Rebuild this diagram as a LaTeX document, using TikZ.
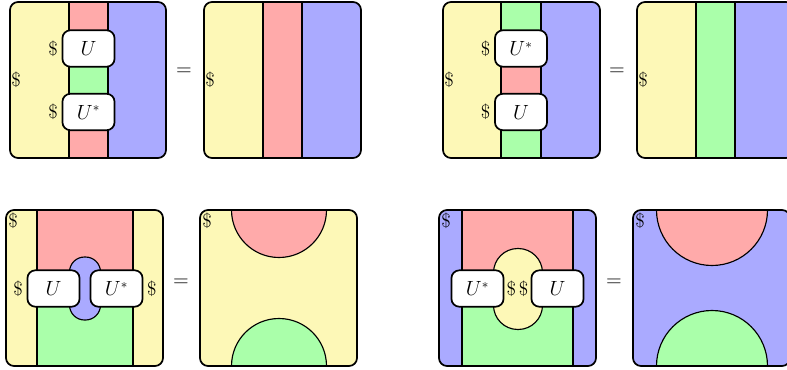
\documentclass[tikz,border=0pt]{standalone}
\definecolor{cy}{RGB}{253,248,183}
\definecolor{cr}{RGB}{255,170,170}
\definecolor{cg}{RGB}{170,255,170}
\definecolor{cb}{RGB}{170,170,255}
\tikzset{
  panel/.style={line width=1.2pt, rounded corners=5.6pt},
  strip/.style={line width=0.8pt},
  opbox/.style={draw, line width=1.2pt, fill=white, rounded corners=5.6pt,
    minimum width=36.5pt, minimum height=25.5pt, inner sep=0pt},
  lbl/.style={inner sep=2.4pt},
  tight/.style={inner sep=1.3pt},
  corner/.style={anchor=west, inner sep=1.5pt},
  eq/.style={font=\fontsize{15}{18}\selectfont}
}
\begin{document}
\begin{tikzpicture}[x=0.7pt,y=-0.7pt, every node/.style={font=\fontsize{13.5}{16}\selectfont}]
\useasboundingbox (0,0) rectangle (787,370);
% ---------- Panel A ----------
\begin{scope}
\clip[rounded corners=5.6pt] (10,2) rectangle (166,158);
\fill[cy] (10,2) rectangle (69,158);
\fill[cr] (69,2) rectangle (108,158);
\fill[cg] (69,67) rectangle (108,93);
\fill[cb] (108,2) rectangle (166,158);
\draw[strip] (69,2) -- (69,158) (108,2) -- (108,158);
\end{scope}
\draw[panel] (10,2) rectangle (166,158);
\node[opbox] (a1) at (88.5,48.5) {$U$};
\node[opbox] (a2) at (88.5,112) {$U^*$};
\node[lbl,left] (a1l) at (a1.west) {\$};
\node[lbl,left] (a2l) at (a2.west) {\$};
\node[corner] (a0) at (9,80) {\$};
\node[eq] (e1) at (184,72) {$=$};
% ---------- Panel B ----------
\begin{scope}
\clip[rounded corners=5.6pt] (204,2) rectangle (361,158);
\fill[cy] (204,2) rectangle (263,158);
\fill[cr] (263,2) rectangle (302,158);
\fill[cb] (302,2) rectangle (361,158);
\draw[strip] (263,2) -- (263,158) (302,2) -- (302,158);
\end{scope}
\draw[panel] (204,2) rectangle (361,158);
\node[corner] (b0) at (203,80) {\$};
% ---------- Panel C ----------
\begin{scope}
\clip[rounded corners=5.6pt] (443,2) rectangle (600,158);
\fill[cy] (443,2) rectangle (501,158);
\fill[cg] (501,2) rectangle (541,158);
\fill[cr] (501,67) rectangle (541,93);
\fill[cb] (541,2) rectangle (600,158);
\draw[strip] (501,2) -- (501,158) (541,2) -- (541,158);
\end{scope}
\draw[panel] (443,2) rectangle (600,158);
\node[opbox] (c1) at (521,48.5) {$U^*$};
\node[opbox] (c2) at (521,112) {$U$};
\node[lbl,left] (c1l) at (c1.west) {\$};
\node[lbl,left] (c2l) at (c2.west) {\$};
\node[corner] (c0) at (442,80) {\$};
\node[eq] (e2) at (617,72) {$=$};
% ---------- Panel D ----------
\begin{scope}
\clip[rounded corners=5.6pt] (637,2) rectangle (794,158);
\fill[cy] (637,2) rectangle (696,158);
\fill[cg] (696,2) rectangle (735,158);
\fill[cb] (735,2) rectangle (794,158);
\draw[strip] (696,2) -- (696,158) (735,2) -- (735,158);
\end{scope}
\draw[panel] (637,2) rectangle (794,158);
\node[corner] (d0) at (636,80) {\$};
% ---------- Panel E ----------
\begin{scope}
\clip[rounded corners=5.6pt] (6,210) rectangle (163,366);
\fill[cy] (6,210) rectangle (163,366);
\fill[cr] (37,210) rectangle (133,289);
\fill[cg] (37,289) rectangle (133,366);
\draw[strip] (37,210) -- (37,366) (133,210) -- (133,366);
\end{scope}
\draw[panel] (6,210) rectangle (163,366);
\draw[strip, fill=cb, rounded corners=10.5pt] (69.5,257) rectangle (100.5,320);
\node[opbox] (f1) at (53.5,288.5) {$U$};
\node[opbox] (f2) at (116.5,288.5) {$U^*$};
\node[lbl,left] (f1l) at (f1.west) {\$};
\node[lbl,right] (f2r) at (f2.east) {\$};
\node[corner] (f0) at (6,221) {\$};
\node[eq] (e3) at (181,283) {$=$};
% ---------- Panel F ----------
\begin{scope}
\clip[rounded corners=5.6pt] (200,210) rectangle (357,366);
\fill[cy] (200,210) rectangle (357,366);
\draw[strip, fill=cr] (231.5,210) arc[start angle=180, end angle=0, radius=47.5] -- cycle;
\draw[strip, fill=cg] (231.5,366) arc[start angle=180, end angle=360, radius=47.5] -- cycle;
\end{scope}
\draw[panel] (200,210) rectangle (357,366);
\node[corner] (g0) at (200,221) {\$};
% ---------- Panel G ----------
\begin{scope}
\clip[rounded corners=5.6pt] (439,210) rectangle (596,366);
\fill[cb] (439,210) rectangle (596,366);
\fill[cr] (462,210) rectangle (573,289);
\fill[cg] (462,289) rectangle (573,366);
\draw[strip] (462,210) -- (462,366) (573,210) -- (573,366);
\end{scope}
\draw[panel] (439,210) rectangle (596,366);
\draw[strip, fill=cy, rounded corners=17pt] (493.5,248.5) rectangle (542.5,329.5);
\node[opbox] (h1) at (477.5,288.5) {$U^*$};
\node[opbox] (h2) at (557.5,288.5) {$U$};
\node[tight,right] (h1r) at (h1.east) {\$};
\node[tight,left] (h2l) at (h2.west) {\$};
\node[corner] (h0) at (439,221) {\$};
\node[eq] (e4) at (614,283) {$=$};
% ---------- Panel H ----------
\begin{scope}
\clip[rounded corners=5.6pt] (633,210) rectangle (790,366);
\fill[cb] (633,210) rectangle (790,366);
\draw[strip, fill=cr] (656.5,210) arc[start angle=180, end angle=0, radius=55.5] -- cycle;
\draw[strip, fill=cg] (656.5,366) arc[start angle=180, end angle=360, radius=55.5] -- cycle;
\end{scope}
\draw[panel] (633,210) rectangle (790,366);
\node[corner] (i0) at (633,221) {\$};
\end{tikzpicture}
\end{document}
